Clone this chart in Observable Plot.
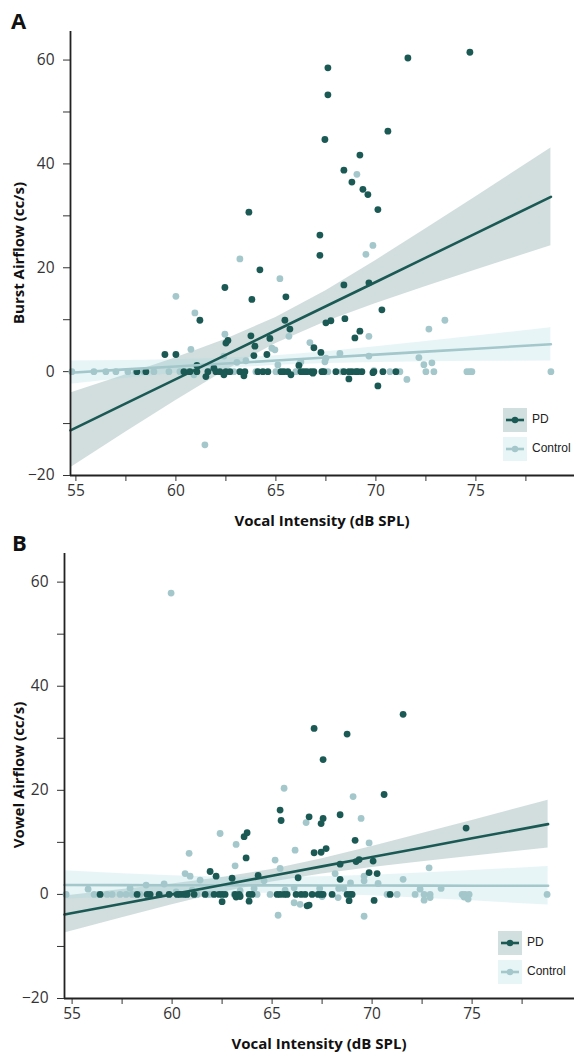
<!DOCTYPE html>
<html><head><meta charset="utf-8">
<script src="https://cdn.jsdelivr.net/npm/d3@7"></script>
<script src="https://cdn.jsdelivr.net/npm/@observablehq/plot@0.6"></script>
<style>
body{margin:0;background:#fff;}
#wrap{position:relative;width:574px;height:1054px;overflow:hidden;background:#fff;}
.panel{position:absolute;left:0;}
.panel text{font-size:15.5px;font-family:"Open Sans",sans-serif;fill:#333;}
.letter{position:absolute;font:bold 22px "Open Sans",sans-serif;color:#111;line-height:1;}
.xlab{position:absolute;font:bold 15px "Open Sans",sans-serif;color:#111;transform:translate(-50%,-50%);white-space:nowrap;}
.ylab{position:absolute;font:bold 15px "Open Sans",sans-serif;color:#111;transform:translate(-50%,-50%) rotate(-90deg);white-space:nowrap;}
.leg{position:absolute;font:12px "Liberation Sans",Arial,sans-serif;color:#222;}
</style></head>
<body><div id="wrap"></div>
<script>
// ---------- data ----------
const groups = ["PD", "Control"];
const xTicks = [55, 57.5, 60, 62.5, 65, 67.5, 70, 72.5, 75, 77.5];
const yTicks = [-20, -10, 0, 10, 20, 30, 40, 50, 60];

// Panel A: Burst airflow
const burstPD = [
[74.7,61.5],[71.6,60.4],[67.6,58.5],[67.6,53.3],[67.45,44.7],[70.6,46.3],[69.2,41.7],[68.4,38.8],[68.8,36.5],[69.35,35.1],
[69.6,34.1],[70.1,31.2],[63.65,30.7],[67.2,26.3],[67.2,22.4],[64.2,19.6],[68.4,16.7],[69.65,17.1],[62.45,16.2],[63.8,13.9],
[65.5,14.4],[70.3,11.9],[61.2,9.9],[65.45,9.9],[65.7,8.2],[67.5,9.4],[67.75,9.8],[68.45,10.2],[69.2,7.8],[68.95,6.5],
[62.6,6.0],[62.5,5.5],[63.75,6.9],[63.95,4.9],[64.7,6.4],[66.9,4.6],[67.25,3.7],[59.45,3.3],[60.0,3.3],[63.9,3.1],
[64.55,3.3],[61.9,0.65],[61.05,1.2],[66.15,1.2],
[58.05,0],[58.5,0],[60.4,0],[60.7,0],[61.05,0],[61.6,0],[62.0,0],[62.2,0],[62.5,0],[62.7,0],[63.2,0],[63.45,0],[64.1,0],
[64.35,0],[64.6,0],[65.25,0],[65.4,0],[65.6,0],[66.25,0],[66.4,0],[66.55,0],[66.75,0],[66.9,0],[67.3,0],[67.4,0],[68.0,0],
[68.4,0],[68.65,0],[68.8,0],[69.0,0],[69.1,0],[69.3,0],[69.9,0],[70.35,0],[71.0,0],
[61.5,-0.95],[62.4,-0.6],[63.4,-0.8],[65.75,-0.6],[66.85,-0.3],[68.65,-1.4],[69.85,-0.2],[70.1,-2.75]
];
const burstControl = [
[69.05,38.0],[69.85,24.3],[69.5,22.6],[63.2,21.7],[65.2,17.9],[60.0,14.5],[60.95,11.3],[72.65,8.2],[73.45,9.9],[62.45,7.2],
[65.65,6.8],[69.65,6.8],[66.7,5.6],[60.75,4.3],[64.8,4.5],[64.95,4.2],[62.4,3.0],[63.05,1.8],[63.5,2.1],[65.1,1.3],
[66.2,1.6],[66.25,1.9],[67.5,2.6],[67.45,1.9],[68.2,3.5],[69.65,3.0],[72.15,2.7],[72.4,1.35],[72.8,1.7],[61.45,-14.1],
[71.55,-1.5],[60.9,-0.6],
[54.8,0],[55.9,0],[56.5,0],[57.0,0],[57.6,0],[58.0,0],[58.4,0],[58.9,0],[59.65,0],[60.2,0],[60.6,0],[60.9,0],[61.6,0],
[62.9,0],[64.0,0],[65.0,0],[66.0,0],[67.6,0],[68.3,0],[69.9,0.2],[70.7,0],[71.2,0],[72.5,0],[72.9,0],[74.55,0],[74.7,0],
[74.8,0],[78.75,0]
];
// fitted lines and 95% bands
const burstFitX   = [54.73, 57.5, 60, 62.5, 65, 67.5, 70, 72.5, 75, 78.75];
const burstPDFit  = [-11.3, -6.12, -1.44, 3.24, 7.92, 12.59, 17.27, 21.95, 26.63, 33.65];
const burstPDLo   = [-18.5, -11.64, -5.56, 0.25, 5.42, 9.59, 13.12, 16.4, 19.57, 24.25];
const burstPDHi   = [-4.1, -0.6, 2.68, 6.23, 10.42, 15.59, 21.42, 27.5, 33.69, 43.05];
const burstCtlFit = [-0.2, 0.43, 1.0, 1.57, 2.14, 2.71, 3.28, 3.85, 4.42, 5.27];
const burstCtlLo  = [-2.45, -1.29, -0.3, 0.59, 1.23, 1.59, 1.78, 1.9, 1.98, 2.07];
const burstCtlHi  = [2.05, 2.15, 2.3, 2.56, 3.05, 3.83, 4.78, 5.8, 6.86, 8.47];

// Panel B: Vowel airflow
const vowelPD = [
[71.55,34.6],[67.1,31.9],[68.75,30.8],[67.55,25.9],[70.6,19.2],[65.4,16.2],[65.45,14.2],[66.85,14.9],[67.55,14.6],[67.45,13.6],
[68.4,15.3],[69.15,10.4],[67.1,8.0],[67.45,8.1],[67.7,8.8],[74.7,12.75],[68.4,5.8],[69.2,6.3],[69.35,6.7],[70.05,6.4],
[69.85,4.2],[70.25,4.0],[66.3,3.2],[68.4,2.9],[63.6,11.1],[63.75,11.85],[63.7,7.0],[61.9,4.4],[62.2,3.5],[64.3,3.65],[63.0,3.1],
[56.4,0],[58.25,0],[58.75,0],[58.9,0],[59.35,0],[59.85,0],[60.25,0],[60.4,0],[60.6,0],[60.75,0],[61.1,0],[61.65,0],[62.1,0],
[62.35,0],[62.5,0],[62.65,0],[63.15,0],[63.35,0],[63.85,0],[64.0,0],[65.25,0],[65.4,0],[65.6,0],[65.75,0],[66.2,0],[66.45,0],
[66.65,0],[67.0,0],[67.3,0],[67.45,0],[67.55,0],[68.0,0],[68.75,0],[68.9,0],[69.0,0],[70.9,0],
[66.85,-2.05],[68.85,-1.2],[70.1,-1.15],[62.5,-1.4],[63.85,-1.3],[63.2,-0.5],[66.75,-2.2],[63.4,-0.4]
];
const vowelControl = [
[59.95,57.9],[65.6,20.4],[69.05,18.8],[66.7,13.8],[69.45,14.6],[69.85,9.9],[66.15,8.5],[72.85,5.1],[65.4,5.0],[68.15,4.0],
[69.6,3.5],[69.6,2.6],[70.3,2.1],[71.55,2.9],[72.4,1.0],[73.45,1.15],[62.4,11.7],[63.2,9.6],[60.85,7.9],[63.15,5.5],
[65.15,6.6],[60.65,4.0],[60.9,3.5],[61.4,2.75],[59.6,2.0],[58.7,1.8],[57.9,1.2],[55.8,1.0],[64.6,2.6],[64.1,1.15],
[63.4,0.7],[60.2,0.5],[61.0,0.8],[65.65,0.8],[66.1,1.3],[68.33,1.15],[68.58,1.15],[68.92,2.2],[67.38,1.15],
[54.7,0],[56.1,0],[56.35,0],[56.75,0],[57.0,0],[57.4,0],[57.7,0],[58.0,0],[58.4,0],[58.9,0],[59.4,0],[59.85,0],[60.25,0],
[60.6,0],[60.75,0],[61.1,0],[61.25,0],[61.75,0],[61.9,0],[63.1,0],[63.4,0],[64.25,0],[64.9,0],[70.75,0],[71.25,0],[72.15,0],
[72.6,0],[72.9,0],[74.5,0],[74.65,0],[74.85,0],[78.75,0],
[66.1,-1.6],[66.4,-1.9],[72.6,-1.1],[72.9,-0.6],[69.6,-4.2],[65.3,-4.0],[74.6,-0.5],[74.8,-0.9],[68.3,-0.6],[67.5,-0.4]
];
const vowelFitX   = [54.62, 57.5, 60, 62.5, 65, 67.5, 70, 72.5, 75, 78.8];
const vowelPDFit  = [-3.85, -1.78, 0.01, 1.80, 3.6, 5.39, 7.19, 8.98, 10.78, 13.5];
const vowelPDLo   = [-7.4, -4.48, -1.99, 0.35, 2.4, 3.94, 5.19, 6.28, 7.35, 8.9];
const vowelPDHi   = [-0.3, 0.92, 2.01, 3.25, 4.8, 6.84, 9.19, 11.68, 14.21, 18.1];
const vowelCtlFit = [1.8, 1.78, 1.77, 1.75, 1.74, 1.72, 1.71, 1.69, 1.67, 1.65];
const vowelCtlLo  = [-0.95, -0.43, -0.05, 0.18, 0.23, 0.05, -0.28, -0.73, -1.24, -2.05];
const vowelCtlHi  = [4.55, 3.99, 3.59, 3.32, 3.25, 3.39, 3.7, 4.11, 4.58, 5.35];

// ---------- style ----------
const colPD = "#1b5955", colCtl = "#a3c7ca";
const bandPD = "#1b5955", bandCtl = "#9fd8df";

function band(xs, lo, hi) { return xs.map((x, i) => ({x, lo: lo[i], hi: hi[i]})); }
function fit(xs, ys) { return xs.map((x, i) => ({x, y: ys[i]})); }
const fmtY = d => d % 20 === 0 ? (d < 0 ? "\u2212" + (-d) : String(d)) : "";
const fmtX = d => d % 5 === 0 ? String(d) : "";

function panel(o) {
  return Plot.plot({
    width: 574, height: o.height, marginTop: 31, marginBottom: o.marginBottom,
    marginLeft: o.marginLeft, marginRight: 0,
    style: {background: "transparent", fontFamily: "'Open Sans', sans-serif", fontSize: "15px", color: "#333", overflow: "visible"},
    x: {domain: o.xDomain, ticks: xTicks, tickFormat: fmtX, tickSize: 6, tickPadding: 3, label: null},
    y: {domain: [-20, 65.5], ticks: yTicks, tickFormat: fmtY, tickSize: 7, tickPadding: 9, label: null},
    marks: [
      Plot.areaY(band(o.fx, o.pdLo, o.pdHi), {x: "x", y1: "lo", y2: "hi", fill: bandPD, fillOpacity: 0.2}),
      Plot.areaY(band(o.fx, o.ctlLo, o.ctlHi), {x: "x", y1: "lo", y2: "hi", fill: bandCtl, fillOpacity: 0.25}),
      Plot.dot(o.ctl, {x: d => d[0], y: d => d[1], r: 3.4, fill: colCtl}),
      Plot.dot(o.pd, {x: d => d[0], y: d => d[1], r: 3.4, fill: colPD}),
      Plot.line(fit(o.fx, o.ctlFit), {x: "x", y: "y", stroke: colCtl, strokeWidth: 2.6}),
      Plot.line(fit(o.fx, o.pdFit), {x: "x", y: "y", stroke: colPD, strokeWidth: 2.6}),
      Plot.ruleX([o.xDomain[0]], {stroke: "#222", strokeWidth: 1.8}),
      Plot.ruleY([-20], {stroke: "#222", strokeWidth: 1.8})
    ]
  });
}

const wrap = document.getElementById("wrap");
function place(el, top) { el.classList.add("panel"); el.style.top = top + "px"; wrap.appendChild(el); }

const pA = panel({height: 530, marginBottom: 55, marginLeft: 70, xDomain: [54.73, 79.93],
  pd: burstPD, ctl: burstControl, fx: burstFitX,
  pdFit: burstPDFit, pdLo: burstPDLo, pdHi: burstPDHi, ctlFit: burstCtlFit, ctlLo: burstCtlLo, ctlHi: burstCtlHi});
place(pA, 0);
const pB = panel({height: 532, marginBottom: 56, marginLeft: 64, xDomain: [54.62, 80.12],
  pd: vowelPD, ctl: vowelControl, fx: vowelFitX,
  pdFit: vowelPDFit, pdLo: vowelPDLo, pdHi: vowelPDHi, ctlFit: vowelCtlFit, ctlLo: vowelCtlLo, ctlHi: vowelCtlHi});
place(pB, 522);

function addText(cls, txt, left, top) {
  const d = document.createElement("div"); d.className = cls; d.textContent = txt;
  d.style.left = left + "px"; d.style.top = top + "px"; wrap.appendChild(d); return d;
}
addText("letter", "A", 11, 9);
addText("letter", "B", 12, 531);
addText("xlab", "Vocal Intensity (dB SPL)", 322, 520);
addText("xlab", "Vocal Intensity (dB SPL)", 319, 1043);
addText("ylab", "Burst Airflow (cc/s)", 18, 253);
addText("ylab", "Vowel Airflow (cc/s)", 18, 775);

function legend(left, top) {
  const items = [{name: groups[0], c: colPD, b: "#d1dfde"}, {name: groups[1], c: colCtl, b: "#e7f5f7"}];
  items.forEach((it, i) => {
    const y = top + i * 29;
    const div = document.createElement("div");
    div.className = "leg"; div.style.left = left + "px"; div.style.top = y + "px";
    div.innerHTML = `<svg width="24" height="24" style="display:block">
      <rect width="24" height="24" fill="${it.b}"/>
      <line x1="3" x2="21" y1="12" y2="12" stroke="${it.c}" stroke-width="2.6"/>
      <circle cx="12" cy="12" r="3.2" fill="${it.c}"/></svg><span style="position:absolute;left:29px;top:4px;white-space:nowrap">${it.name}</span>`;
    wrap.appendChild(div);
  });
}
legend(503, 408);
legend(498, 931);
</script></body></html>
